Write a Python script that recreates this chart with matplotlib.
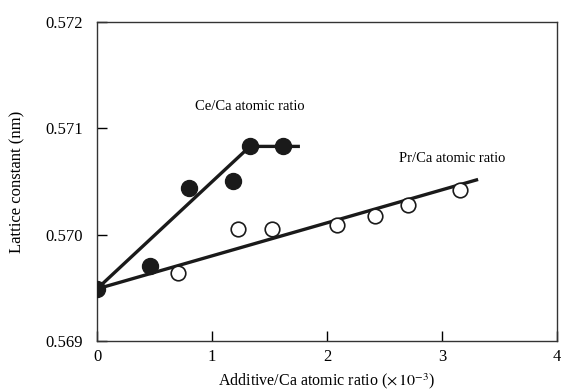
import numpy as np
import matplotlib
matplotlib.use("Agg")
import matplotlib.pyplot as plt

plt.rcParams['font.family'] = ['Liberation Serif', 'DejaVu Serif']
plt.rcParams['mathtext.fontset'] = 'stix'

# Ce/Ca data (filled circles)
ce_x = [0.0, 0.46, 0.80, 1.18, 1.33, 1.62]
ce_y = [0.56949, 0.56971, 0.57044, 0.57050, 0.57083, 0.57083]
# Ce fit line
ce_line_x = [0.0, 1.33, 1.75]
ce_line_y = [0.56949, 0.57083, 0.57083]

# Pr/Ca data (open circles)
pr_x = [0.70, 1.23, 1.52, 2.09, 2.42, 2.70, 3.16]
pr_y = [0.56964, 0.57005, 0.57005, 0.57009, 0.57018, 0.57028, 0.57042]
pr_line_x = [0.0, 3.30]
pr_line_y = [0.56949, 0.570515]

fig = plt.figure(figsize=(5.61, 3.9), dpi=100)
ax = fig.add_axes([97/561, 1-341/390, 460/561, 319/390])

ax.plot(ce_line_x, ce_line_y, color='#1a1a1a', lw=2.4, zorder=2)
ax.plot(pr_line_x, pr_line_y, color='#1a1a1a', lw=2.4, zorder=2)
ax.plot(pr_x, pr_y, 'o', ms=10.5, mfc='white', mec='#1a1a1a', mew=1.2, zorder=3)
ax.plot(ce_x, ce_y, 'o', ms=11.5, mfc='#1a1a1a', mec='#1a1a1a', zorder=4)

ax.text(1.33, 0.57121, 'Ce/Ca atomic ratio', ha='center', va='center', fontsize=10.5)
ax.text(3.09, 0.57072, 'Pr/Ca atomic ratio', ha='center', va='center', fontsize=10.5)

ax.set_xlim(0, 4)
ax.set_ylim(0.569, 0.572)
ax.set_xticks([0, 1, 2, 3, 4])
ax.set_yticks([0.569, 0.570, 0.571, 0.572])
ax.set_yticklabels(['0.569', '0.570', '0.571', '0.572'])
ax.tick_params(direction='in', length=7, width=1, labelsize=12)
ax.tick_params(axis='y', pad=10)
ax.tick_params(axis='x', pad=6)
for s in ax.spines.values():
    s.set_linewidth(1)
    s.set_color('#333333')

ax.set_xlabel(r'Additive/Ca atomic ratio ($\times\,10^{-3}$)', fontsize=11.5)
ax.xaxis.set_label_coords(0.5, -0.095)
ax.xaxis.label.set_va('top')
ax.set_ylabel('Lattice constant (nm)', fontsize=12)
ax.yaxis.set_label_coords(-0.155, 0.5)

fig.savefig('out.png', dpi=100)
